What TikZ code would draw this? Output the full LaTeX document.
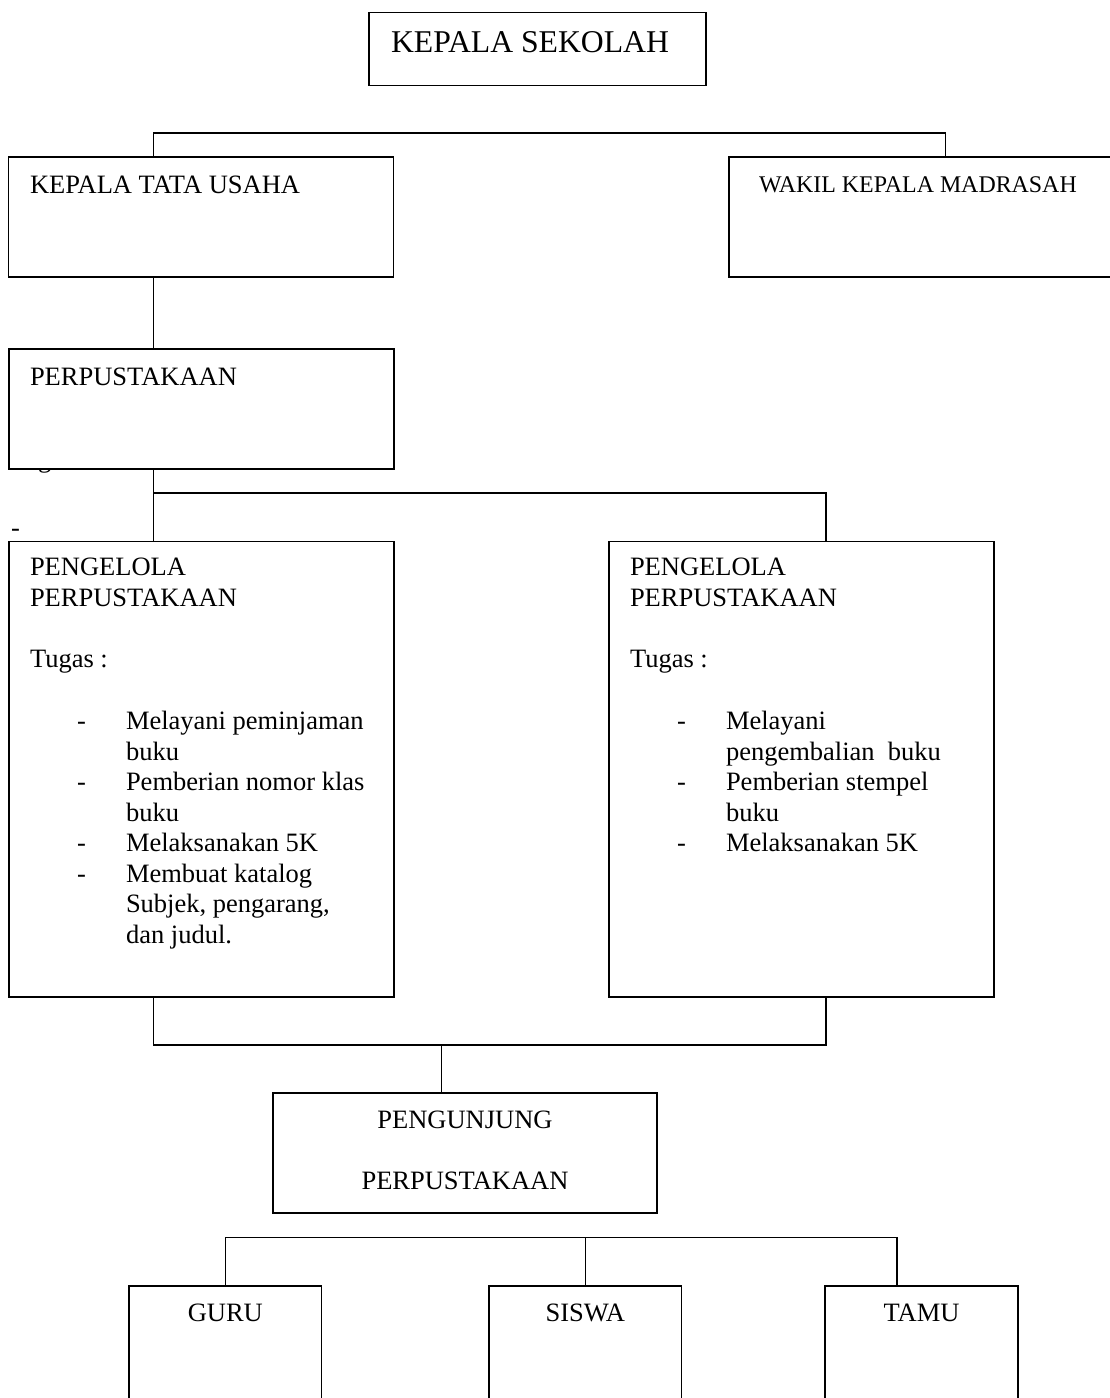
\documentclass[tikz,border=0pt]{standalone}
\usepackage{fontspec}
\setmainfont{Liberation Serif}
\usetikzlibrary{calc}
\tikzset{
  box/.style={draw, line width=1.5pt, fill=white, inner sep=0pt, outer sep=0pt, anchor=north west},
  lbl/.style={inner sep=0pt, outer sep=0pt, anchor=base west, font=\fontsize{26.5}{30}\selectfont},
  clbl/.style={lbl, anchor=base},
  link/.style={line width=1.5pt}
}
\begin{document}
\begin{tikzpicture}[x=1pt,y=-1pt]
\useasboundingbox (0,0) rectangle (1110,1398);
\clip (0,0) rectangle (1110,1398);
% stray text fragments (partly hidden)
\node[lbl] (frag1) at (38,467) {g};
\node[lbl] (frag2) at (11,536) {-};
% boxes
\node[box, minimum width=337pt, minimum height=73pt] (ks) at (369,12.7) {};
\node[box, minimum width=385pt, minimum height=120pt] (ktu) at (8.5,157) {};
\node[box, minimum width=400pt, minimum height=120pt] (wk) at (729,157) {};
\node[box, minimum width=385pt, minimum height=120pt] (perp) at (9,349) {};
\node[box, minimum width=385pt, minimum height=455.5pt] (pl) at (9,541.5) {};
\node[box, minimum width=385pt, minimum height=455.5pt] (pr) at (609,541.5) {};
\node[box, minimum width=384pt, minimum height=120pt] (pg) at (273,1093) {};
\node[box, minimum width=192.6pt, minimum height=140pt] (guru) at (129,1286) {};
\node[box, minimum width=192.6pt, minimum height=140pt] (siswa) at (489,1286) {};
\node[box, minimum width=193pt, minimum height=140pt] (tamu) at (825,1286) {};
% connectors
\draw[link] ($(ktu.north west)+(145,0)$) |- ($(wk.north west)+(216.5,-24)$) -- ($(wk.north west)+(216.5,0)$);
\draw[link] ($(ktu.south west)+(145,0)$) -- ($(perp.north west)+(144.5,0)$);
\draw[link] ($(perp.south west)+(144.5,0)$) -- ($(pl.north west)+(144.5,0)$);
\draw[link] ($(perp.south west)+(144.5,24)$) -| ($(pr.north west)+(217,0)$);
\draw[link] ($(pl.south west)+(144.5,0)$) |- ($(pr.south west)+(217,48)$) -- ($(pr.south west)+(217,0)$);
\draw[link] ($(pg.north west)+(168.5,-48)$) -- ($(pg.north west)+(168.5,0)$);
\draw[link] (guru.north) -- ++(0,-48.3) -| ($(tamu.north west)+(72,0)$);
\draw[link] (siswa.north) -- ++(0,-48.3);
% labels
\node[lbl, font=\fontsize{31.7}{36}\selectfont] (tks) at (391,52) {KEPALA SEKOLAH};
\node[lbl] (tktu) at (30,193) {KEPALA TATA USAHA};
\node[lbl, font=\fontsize{23.9}{28}\selectfont] (twk) at (759,192) {WAKIL KEPALA MADRASAH};
\node[lbl] (tperp) at (30,385) {PERPUSTAKAAN};
% left pengelola
\node[lbl] (l1) at (30,575.7) {PENGELOLA};
\node[lbl] (l2) at (30,606.7) {PERPUSTAKAAN};
\node[lbl] (l3) at (30,667.7) {Tugas :};
\node[lbl] (lb1) at (77,729) {-};
\node[lbl] (lb2) at (77,790) {-};
\node[lbl] (lb3) at (77,851.7) {-};
\node[lbl] (lb4) at (77,882) {-};
\node[lbl] (li1) at (126,729) {Melayani peminjaman};
\node[lbl] (li2) at (126,760) {buku};
\node[lbl] (li3) at (126,790) {Pemberian nomor klas};
\node[lbl] (li4) at (126,821) {buku};
\node[lbl] (li5) at (126,851.7) {Melaksanakan 5K};
\node[lbl] (li6) at (126,882) {Membuat katalog};
\node[lbl] (li7) at (126,912.5) {Subjek, pengarang,};
\node[lbl] (li8) at (126,943) {dan judul.};
% right pengelola
\node[lbl] (r1) at (630,575.7) {PENGELOLA};
\node[lbl] (r2) at (630,606.7) {PERPUSTAKAAN};
\node[lbl] (r3) at (630,667.7) {Tugas :};
\node[lbl] (rb1) at (677,729) {-};
\node[lbl] (rb2) at (677,790) {-};
\node[lbl] (rb3) at (677,851.7) {-};
\node[lbl] (ri1) at (726,729) {Melayani};
\node[lbl] (ri2) at (726,760) {pengembalian\hspace{0.5em}buku};
\node[lbl] (ri3) at (726,790) {Pemberian stempel};
\node[lbl] (ri4) at (726,821) {buku};
\node[lbl] (ri5) at (726,851.7) {Melaksanakan 5K};
% pengunjung
\node[clbl] (p1) at (465,1128) {PENGUNJUNG};
\node[clbl] (p2) at (465,1189) {PERPUSTAKAAN};
% bottom
\node[clbl] (g1) at (225.3,1321.7) {GURU};
\node[clbl] (s1) at (585.3,1321.7) {SISWA};
\node[clbl] (tm1) at (921.5,1321.7) {TAMU};
\end{tikzpicture}
\end{document}
